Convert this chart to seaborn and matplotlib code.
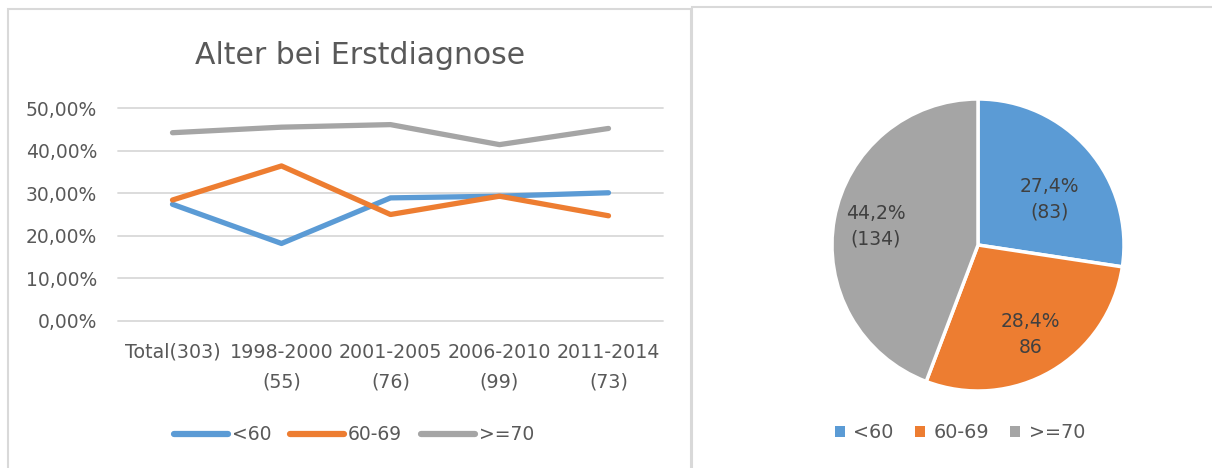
import matplotlib
matplotlib.use("Agg")
import numpy as np
import pandas as pd
import seaborn as sns
import matplotlib.pyplot as plt
from matplotlib.patches import Patch, Rectangle
from matplotlib.lines import Line2D

# ---------------- data ----------------
categories = ["Total(303)", "1998-2000\n(55)", "2001-2005\n(76)", "2006-2010\n(99)", "2011-2014\n(73)"]
series_names = ["<60", "60-69", ">=70"]
under_60 = [0.274, 0.182, 0.289, 0.293, 0.301]
age_60_69 = [0.284, 0.364, 0.250, 0.293, 0.247]
over_70 = [0.442, 0.455, 0.461, 0.414, 0.452]
ytick_values = [0.0, 0.1, 0.2, 0.3, 0.4, 0.5]
ytick_labels = ["0,00%", "10,00%", "20,00%", "30,00%", "40,00%", "50,00%"]
pie_counts = [83, 86, 134]
pie_labels = ["27,4%\n(83)", "28,4%\n86", "44,2%\n(134)"]
title = "Alter bei Erstdiagnose"

colors = ["#5B9BD5", "#ED7D31", "#A5A5A5"]
text_color = "#595959"
grid_color = "#D9D9D9"

df = pd.DataFrame({
    "Zeitraum": categories * 3,
    "Anteil": under_60 + age_60_69 + over_70,
    "Alter": [n for n in series_names for _ in categories],
})

sns.set_theme(style="white")
plt.rcParams["font.family"] = ["DejaVu Sans"]

W, H = 1212, 468
fig = plt.figure(figsize=(W / 100, H / 100), dpi=100)
fig.patch.set_facecolor("white")

# ---------------- line chart ----------------
ax = fig.add_axes([118 / W, (H - 321) / H, 545 / W, 213 / H])
sns.lineplot(data=df, x="Zeitraum", y="Anteil", hue="Alter", hue_order=series_names,
             palette=colors, linewidth=3.8, sort=False, legend=False, ax=ax)
for ln in ax.lines:
    ln.set_solid_capstyle("round")
    ln.set_solid_joinstyle("round")
ax.set_xlim(-0.5, len(categories) - 0.5)
ax.set_ylim(0, 0.5)
ax.set_yticks(ytick_values, ytick_labels)
ax.grid(axis="y", color=grid_color, linewidth=1.3)
ax.grid(axis="x", visible=False)
for gl in ax.get_ygridlines():
    gl.set_clip_on(False)
ax.set_axisbelow(True)
for s in ax.spines.values():
    s.set_visible(False)
ax.set_xlabel("")
ax.set_ylabel("")
ax.tick_params(axis="y", length=0, pad=15, labelsize=13.5, labelcolor=text_color)
ax.tick_params(axis="x", length=0, pad=15.5, labelsize=13.7, labelcolor=text_color)
for t in ax.get_xticklabels():
    t.set_linespacing(1.7)

fig.text(360 / W, 1 - 55 / H, title, ha="center", va="center", fontsize=21.5, color=text_color)

line_handles = [Line2D([], [], color=c, lw=4.5, solid_capstyle="round") for c in colors]
fig.legend(line_handles, series_names, loc="center", bbox_to_anchor=(354 / W, 1 - 435 / H),
           ncol=3, frameon=False, fontsize=13.5, handlelength=2.9, handletextpad=0.2,
           columnspacing=1.0, labelcolor=text_color)

# ---------------- pie chart ----------------
r = 146
pax = fig.add_axes([(978 - 1.25 * r) / W, (H - 245 - 1.25 * r) / H, 2.5 * r / W, 2.5 * r / H])
wedges, _ = pax.pie(pie_counts, colors=colors, startangle=90, counterclock=False,
                    wedgeprops=dict(edgecolor="white", linewidth=2.5))
pax.set_xlim(-1.25, 1.25)
pax.set_ylim(-1.25, 1.25)
label_radius = [0.58, 0.71, 0.71]
label_shift = [-8, 0, 0]
for w, lab, rf, sh in zip(wedges, pie_labels, label_radius, label_shift):
    ang = np.deg2rad((w.theta1 + w.theta2) / 2 + sh)
    pax.text(rf * np.cos(ang), rf * np.sin(ang), lab, ha="center", va="center",
             fontsize=13.5, color="#404040", linespacing=1.45)

patch_handles = [Patch(facecolor=c, edgecolor="none") for c in colors]
fig.legend(patch_handles, series_names, loc="center", bbox_to_anchor=(960 / W, 1 - 433 / H),
           ncol=3, frameon=False, fontsize=13.8, handlelength=0.52, handleheight=0.52,
           handletextpad=0.45, columnspacing=1.1, labelcolor=text_color)

# ---------------- panel borders ----------------
fig.add_artist(Rectangle((8 / W, -0.02), (691 - 8) / W, (H - 9) / H + 0.02,
                         transform=fig.transFigure, fill=False, edgecolor=grid_color, lw=1.5))
fig.add_artist(Rectangle((692 / W, -0.02), (W - 692) / W + 0.02, (H - 7) / H + 0.02,
                         transform=fig.transFigure, fill=False, edgecolor=grid_color, lw=1.5))

fig.savefig("out.png", dpi=100)
